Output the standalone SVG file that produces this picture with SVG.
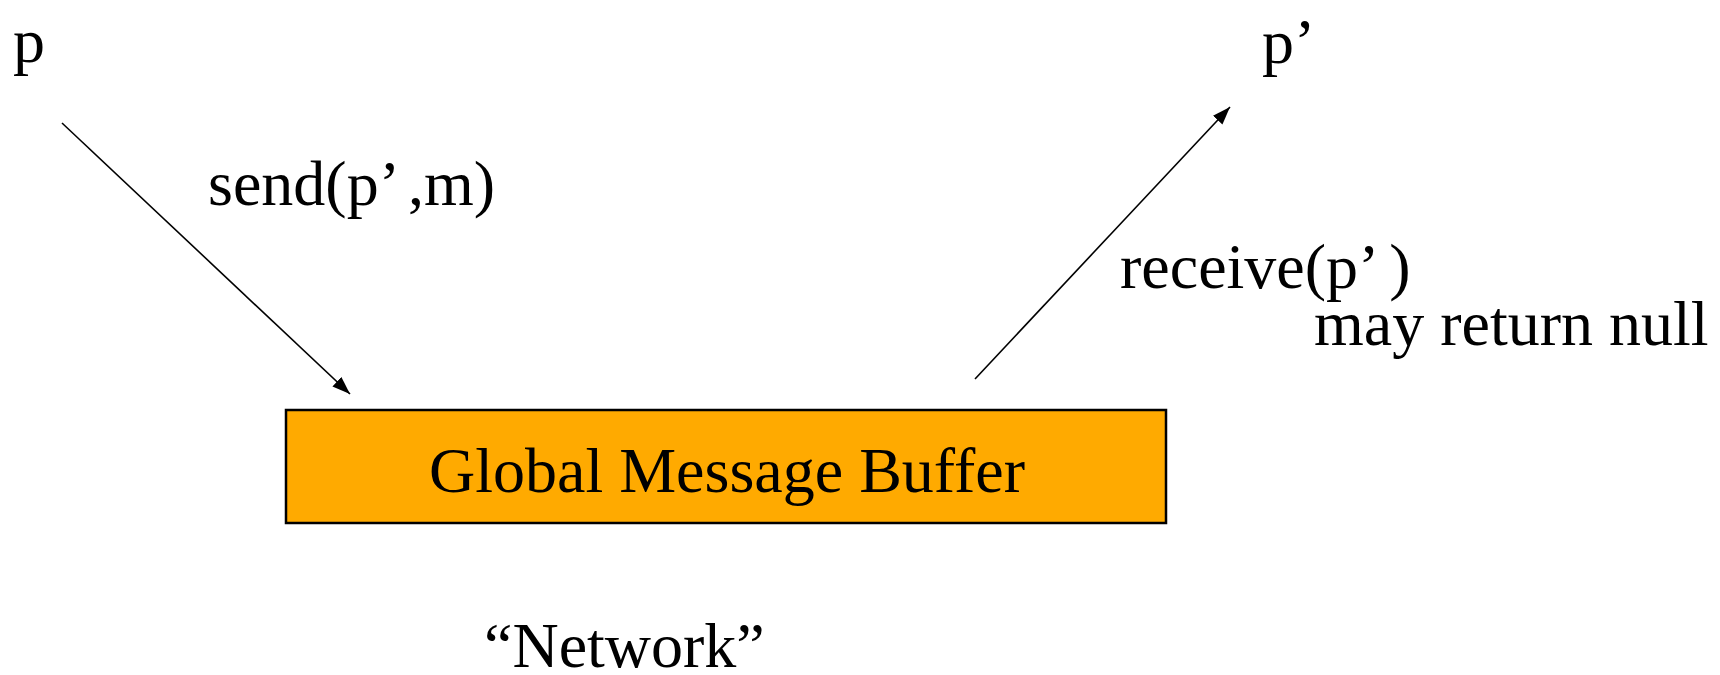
<svg xmlns="http://www.w3.org/2000/svg" width="1720" height="675" viewBox="0 0 1720 675">
  <style>
    .t { font-family: "Liberation Serif", "Times New Roman", serif; font-size: 64px; fill: #000; }
    .conn { stroke: #000; stroke-width: 1.6; fill: none; marker-end: url(#arrow); }
    .buf { fill: #FFAA00; stroke: #000; stroke-width: 2.5; }
  </style>
  <defs>
    <marker id="arrow" markerUnits="userSpaceOnUse" markerWidth="20" markerHeight="14" refX="18" refY="6.5" orient="auto">
      <path d="M0,0 L18,6.5 L0,13 z" fill="#000"/>
    </marker>
  </defs>
  <rect width="1720" height="675" fill="#fff"/>

  <g id="connectors">
    <line id="send-arrow" class="conn" x1="62" y1="123" x2="350" y2="394"/>
    <line id="receive-arrow" class="conn" x1="975" y1="379" x2="1230" y2="107"/>
  </g>

  <g id="node-p">
    <text class="t" x="13" y="62">p</text>
  </g>

  <g id="node-p-prime">
    <text class="t" x="1262" y="63">p’</text>
  </g>

  <g id="label-send">
    <text class="t" x="208" y="205">send(p’<tspan dx="8">,m)</tspan></text>
  </g>

  <g id="label-receive">
    <text class="t" x="1120" y="288">receive(p’<tspan dx="10">)</tspan></text>
    <text class="t" x="1314" y="345">may return null</text>
  </g>

  <g id="node-buffer">
    <rect class="buf" x="286" y="410" width="880" height="113"/>
    <text class="t" x="727" y="492" text-anchor="middle">Global Message Buffer</text>
  </g>

  <g id="label-network">
    <text class="t" x="484" y="667">“Network”</text>
  </g>
</svg>
